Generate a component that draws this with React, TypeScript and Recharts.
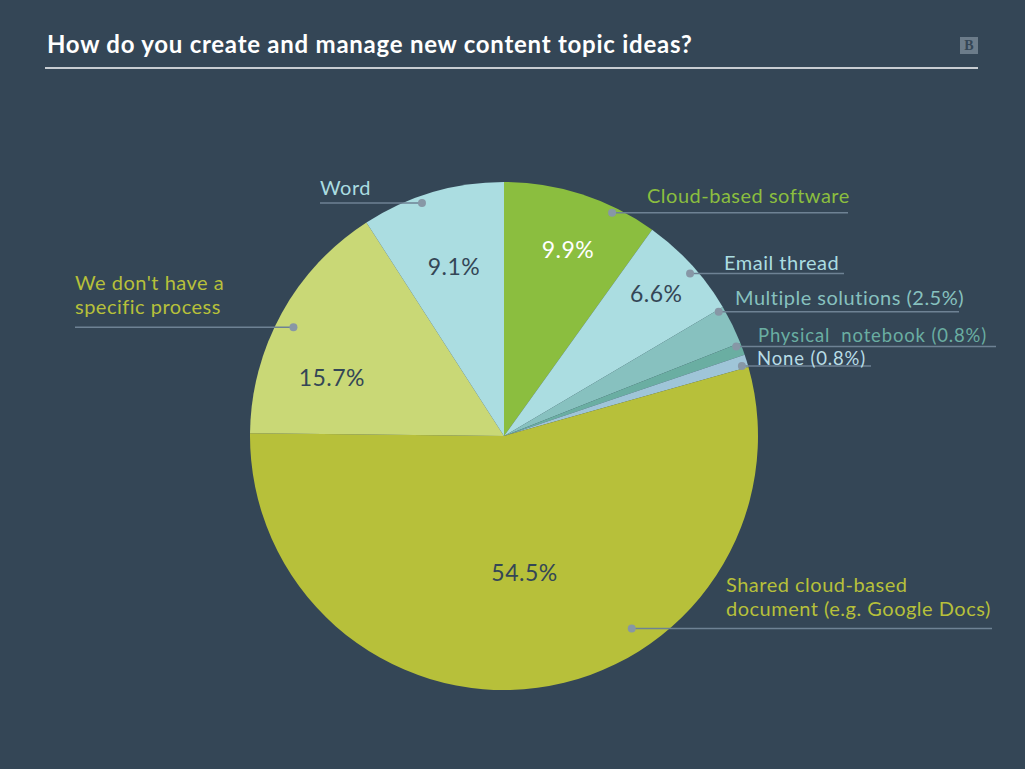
import React from 'react';
import { PieChart, Pie, Cell } from 'recharts';

const categories = [
  'Cloud-based software',
  'Email thread',
  'Multiple solutions (2.5%)',
  'Physical  notebook (0.8%)',
  'None (0.8%)',
  'Shared cloud-based\ndocument (e.g. Google Docs)',
  "We don't have a\nspecific process",
  'Word',
];
const shares = [9.9, 6.6, 2.5, 0.8, 0.8, 54.5, 15.7, 9.1];
const shareLabels = ['9.9%', '6.6%', '', '', '', '54.5%', '15.7%', '9.1%'];

const sliceColors = ['#8bbe3f', '#abdde1', '#87c1bf', '#6aaea2', '#9fc5d8', '#b7c03a', '#c9d876', '#abdde1'];
const textColors = ['#8bbe3f', '#abdde1', '#87c1bf', '#6aaea2', '#b8dde6', '#b7c03a', '#b7c03a', '#abdde1'];
const pctColors = ['#ffffff', '#344656', '', '', '', '#344656', '#344656', '#344656'];

// callout layout: dot shift (deg, clockwise), dot radius, line end x, text x, baseline offset, font size
const callouts = [
  { shift: 8, r: 248, end: 848, tx: 647, dy: -10, fs: 20 },
  { shift: 1.3, r: 247, end: 844, tx: 724, dy: -4, fs: 20 },
  { shift: -4, r: 248, end: 959, tx: 735, dy: -7, fs: 20 },
  { shift: -1, r: 249, end: 996, tx: 758, dy: -4, fs: 18.5 },
  { shift: 0.8, r: 248, end: 871, tx: 757, dy: -1, fs: 18.5 },
  { shift: -26, r: 231, end: 992, tx: 726, dy: -12, fs: 20 },
  { shift: -1.6, r: 237, end: 75, tx: 75, dy: -13, fs: 20 },
  { shift: -3, r: 247, end: 320, tx: 320, dy: -8, fs: 20 },
];
const pctPos = [
  { shift: 1, r: 198 },
  { shift: -0.8, r: 209 },
  null,
  null,
  null,
  { shift: -1, r: 138 },
  { shift: -10, r: 182 },
  { shift: 0, r: 177 },
];

const data = categories.map((name, i) => ({ name, value: shares[i] }));
const RAD = Math.PI / 180;
const FONT = 'Lato, "Open Sans", sans-serif';

const renderLabel = (props: any) => {
  const { cx, cy, midAngle, index } = props;
  const c = callouts[index];
  const a = (midAngle - c.shift) * RAD;
  const dx = cx + c.r * Math.cos(a);
  const dy = cy - c.r * Math.sin(a);
  const lines = categories[index].split('\n');
  const p = pctPos[index];
  let pct = null;
  if (p) {
    const pa = (midAngle - p.shift) * RAD;
    pct = (
      <text
        x={cx + p.r * Math.cos(pa)}
        y={cy - p.r * Math.sin(pa)}
        textAnchor="middle"
        dominantBaseline="central"
        fill={pctColors[index]}
        fontSize={23}
        letterSpacing={0.5}
        fontFamily={FONT}
      >
        {shareLabels[index]}
      </text>
    );
  }
  return (
    <g key={`lbl-${index}`}>
      <line x1={dx} y1={dy} x2={c.end} y2={dy} stroke="#6e8294" strokeWidth={1.5} />
      <circle cx={dx} cy={dy} r={4} fill="#8797a6" />
      {lines.map((t, k) => (
        <text
          key={k}
          x={c.tx}
          y={dy + c.dy - (lines.length - 1 - k) * 24}
          fill={textColors[index]}
          fontSize={c.fs}
          letterSpacing={c.fs < 20 ? 0.85 : 0.5}
          fontFamily={FONT}
          style={{ whiteSpace: 'pre' }}
        >
          {t}
        </text>
      ))}
      {pct}
    </g>
  );
};

export default function App() {
  return (
    <div style={{ position: 'absolute', left: 0, top: 0, width: 1025, height: 769, background: '#344656', overflow: 'hidden' }}>
      <div
        style={{
          position: 'absolute',
          left: 47,
          top: 29,
          color: '#ffffff',
          fontFamily: FONT,
          fontWeight: 700,
          fontSize: 24,
          letterSpacing: 0.75,
          whiteSpace: 'nowrap',
        }}
      >
        How do you create and manage new content topic ideas?
      </div>
      <div style={{ position: 'absolute', left: 45, top: 67, width: 933, height: 1.5, background: '#c8cdd2' }} />
      <div
        style={{
          position: 'absolute',
          left: 960,
          top: 37,
          width: 18,
          height: 17,
          background: '#6c7c8a',
          color: '#344656',
          fontFamily: 'serif',
          fontWeight: 700,
          fontSize: 14,
          lineHeight: '17px',
          textAlign: 'center',
        }}
      >
        B
      </div>
      <div style={{ position: 'absolute', left: 0, top: 0 }}>
        <PieChart width={1025} height={769} margin={{ top: 0, right: 0, bottom: 0, left: 0 }}>
          <Pie
            data={data}
            dataKey="value"
            nameKey="name"
            cx={504}
            cy={436}
            outerRadius={254}
            startAngle={90}
            endAngle={-270}
            stroke="none"
            label={renderLabel}
            labelLine={false}
            isAnimationActive={false}
          >
            {data.map((d, i) => (
              <Cell key={d.name} fill={sliceColors[i]} />
            ))}
          </Pie>
        </PieChart>
      </div>
    </div>
  );
}
